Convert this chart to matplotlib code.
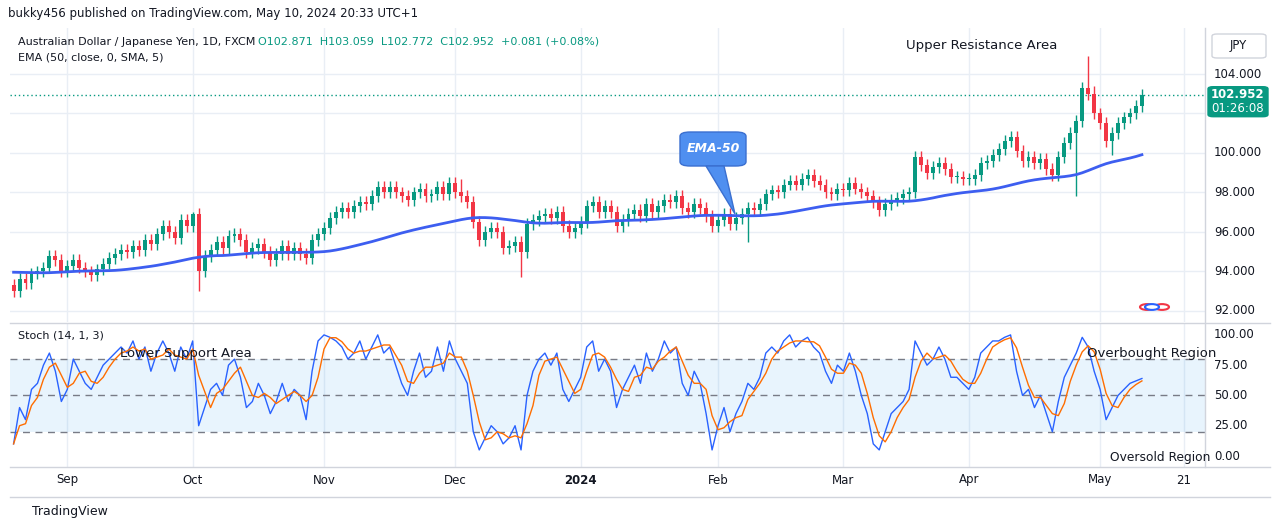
import numpy as np
import pandas as pd
import matplotlib
matplotlib.use("Agg")
import matplotlib.pyplot as plt
from matplotlib.patches import FancyBboxPatch, Rectangle

closes = [
 93.0,93.6,93.4,93.9,94.0, 94.2,94.8,94.6,94.0,94.3, 94.6,94.2,94.0,93.8,94.1,
 94.4,94.7,94.9,95.1,95.0, 95.3,95.1,95.6,95.4,95.9, 96.3,96.0,95.7,96.6,96.3,
 96.9,94.0,94.8,95.1,95.5, 95.2,95.8,95.9,95.6,95.0, 95.2,95.4,95.0,94.6,94.9,
 95.3,94.9,95.2,94.9,94.7, 95.6,95.9,96.2,96.7,97.0, 97.2,97.0,97.3,97.5,97.4,
 97.8,98.3,98.0,98.3,98.0, 97.8,97.6,98.0,98.2,97.8, 97.9,98.3,97.9,98.5,98.0,
 97.8,97.5,96.5,95.6,96.0, 96.2,96.0,95.2,95.3,95.5, 95.0,96.4,96.6,96.8,96.9,
 96.7,97.0,96.3,96.0,96.2, 96.5,97.3,97.5,97.0,97.3, 97.0,96.3,96.6,96.9,97.1,
 96.8,97.4,97.0,97.3,97.6, 97.5,97.8,97.2,97.0,97.4, 97.2,96.8,96.3,96.6,96.9,
 96.4,96.7,96.9,97.2,97.1, 97.4,97.9,98.1,98.0,98.4, 98.6,98.4,98.7,98.9,98.6,
 98.4,98.0,97.9,98.2,98.1, 98.5,98.2,98.0,97.8,97.5, 97.1,97.4,97.6,97.7,97.9,
 98.0,99.8,99.4,99.0,99.3, 99.5,99.2,98.8,98.8,98.7, 98.7,98.9,99.5,99.6,99.9,
 100.2,100.6,100.8,100.1,99.6, 99.8,99.5,99.7,99.2,98.9, 99.8,100.5,101.0,101.6,103.3,
 103.0,102.0,101.5,100.6,101.0, 101.5,101.8,102.0,102.4,102.952]
first_open = 93.3
wick = 0.3
extreme_highs = {30: 97.0, 180: 104.9, 181: 103.4, 75: 98.7}
extreme_lows = {31: 93.0, 85: 93.7, 123: 95.5, 178: 97.8, 184: 99.9}
stoch_k = [
 10,40,30,55,60, 75,85,70,45,55, 80,70,60,55,65, 75,80,85,90,85, 95,80,90,70,85,
 95,85,70,90,80, 95,25,40,55,60, 50,75,80,65,40, 45,60,50,35,45, 60,45,55,50,30,
 70,95,100,98,95, 90,80,85,95,80, 90,100,85,90,75, 60,50,70,85,65, 70,90,70,95,80,
 70,60,20,5,15, 25,20,10,15,25, 5,50,70,80,85, 75,85,55,45,55, 65,90,95,70,80,
 70,40,55,65,75, 60,85,70,80,95, 85,90,60,50,70, 60,35,5,25,40, 20,35,45,60,55,
 65,85,90,85,95, 100,90,95,98,90, 85,70,60,75,70, 85,70,50,35,10, 5,20,35,40,45,
 55,95,85,75,80, 90,80,65,65,60, 55,65,85,90,95, 95,98,100,70,50, 55,40,50,35,20,
 45,65,75,85,98, 90,70,55,30,40, 50,55,60,62,64]
ema_seed = 94.0
month_labels = ["Sep", "Oct", "Nov", "Dec", "2024", "Feb", "Mar", "Apr", "May", "21"]
month_starts = ["2023-09-01","2023-10-01","2023-11-01","2023-12-01","2024-01-01",
                "2024-02-01","2024-03-01","2024-04-01","2024-05-01","2024-05-21"]

UP, DN = "#089981", "#f23645"
n = len(closes)
x = np.arange(n)
c = np.array(closes)
o = np.concatenate([[first_open], c[:-1]])
h = np.maximum(o, c) + wick
l = np.minimum(o, c) - wick
for k, v in extreme_highs.items(): h[k] = v
for k, v in extreme_lows.items(): l[k] = v
ema = []
e = ema_seed
a = 2 / 51
for v in c:
    e = e + a * (v - e)
    ema.append(e)
ema = pd.Series(ema).rolling(5, min_periods=1).mean().values
K = np.array(stoch_k, float)
D = pd.Series(K).rolling(3, min_periods=1).mean().values

allb = pd.bdate_range("2023-08-21", "2024-06-10")
def idx(d):
    return int(np.searchsorted(allb, pd.Timestamp(d)))
tick_pos = [idx(d) for d in month_starts]

W, H = 1281, 530
PX = 5.97
fig = plt.figure(figsize=(12.81, 5.30), dpi=100)
fig.patch.set_facecolor("white")
def rect(l_, t, r, b):
    return [l_ / W, 1 - b / H, (r - l_) / W, (b - t) / H]
ax = fig.add_axes(rect(10, 28, 1205, 322))
ax2 = fig.add_axes(rect(10, 324, 1205, 467))
x0 = -0.6; x1 = x0 + 1195 / PX
grid = "#e9eef5"
for a_ in (ax, ax2):
    a_.set_xlim(x0, x1)
    a_.set_xticks([]); a_.set_yticks([])
    for s in a_.spines.values(): s.set_visible(False)
    for p in tick_pos: a_.axvline(p, color=grid, lw=1, zorder=0)
ax.set_ylim(91.44, 106.33)
for pv in range(92, 106, 2): ax.axhline(pv, color=grid, lw=1, zorder=0)
for i in x:
    col = UP if c[i] >= o[i] else DN
    ax.vlines(i, l[i], h[i], color=col, lw=1, zorder=2)
    ax.add_patch(Rectangle((i - 0.33, min(o[i], c[i])), 0.66, max(abs(c[i] - o[i]), 0.04),
                           color=col, zorder=3, lw=0))
ax.plot(x, ema, color="#3d5ef0", lw=2, zorder=4)
ax.axhline(c[-1], color="#089981", lw=1, ls=(0, (1, 2)), zorder=1)

ax2.set_ylim(-9.1, 109)
ax2.axhspan(20, 80, color="#2196f3", alpha=0.1, lw=0)
for lv in (80, 50, 20): ax2.axhline(lv, color="#787b86", lw=1, ls=(0, (5, 4)))
ax2.plot(x, K, color="#2962ff", lw=1)
ax2.plot(x, D, color="#ff6d00", lw=1)

fig.add_artist(plt.Line2D([10/W, 1270/W], [1-323/H]*2, color="#d1d4dc", lw=1))
fig.add_artist(plt.Line2D([1205/W]*2, [1-28/H, 1-467/H], color="#d1d4dc", lw=1))
fig.add_artist(plt.Line2D([10/W, 1270/W], [1-467/H]*2, color="#d1d4dc", lw=1))
fig.add_artist(plt.Line2D([10/W, 1270/W], [1-497/H]*2, color="#d1d4dc", lw=1))

F = "DejaVu Sans"
def ft(px, py, s, **kw):
    kw.setdefault("fontsize", 8.5); kw.setdefault("color", "#131722"); kw.setdefault("family", F)
    fig.text(px / W, 1 - py / H, s, **kw)
for pv in range(92, 106, 2):
    if pv == 102:
        continue
    yy = 74 + (104 - pv) * 19.75
    ft(1214, yy, f"{pv:.3f}", va="center")
for sv in (100, 75, 50, 25, 0):
    yy = 456 - sv * 1.21
    ft(1214, yy, f"{sv:.2f}", va="center")
for lab, p in zip(month_labels, tick_pos):
    px = 10 + (p - x0) * PX
    ft(px, 480, lab, ha="center", va="center", fontweight="bold" if lab == "2024" else "normal")
ly = 74 + (104 - c[-1]) * 19.75
fig.add_artist(FancyBboxPatch((1208/W, 1-(ly+22)/H), 60/W, 30/H, boxstyle="round,pad=0,rounding_size=0.004",
                              transform=fig.transFigure, color="#089981"))
ft(1238, ly, f"{c[-1]:.3f}", ha="center", va="center", color="white", fontweight="bold")
ft(1238, ly + 14, "01:26:08", ha="center", va="center", color="white")
fig.add_artist(FancyBboxPatch((1212/W, 1-58/H), 54/W, 24/H, boxstyle="round,pad=0,rounding_size=0.004",
                              transform=fig.transFigure, fc="white", ec="#d1d4dc"))
ft(1230, 46, "JPY", va="center")

ft(8, 14, "bukky456 published on TradingView.com, May 10, 2024 20:33 UTC+1", va="center", fontsize=8.5)
ft(18, 42, "Australian Dollar / Japanese Yen, 1D, FXCM", va="center", fontsize=8)
ft(258, 42, "O102.871  H103.059  L102.772  C102.952  +0.081 (+0.08%)", va="center", color="#089981", fontsize=8)
ft(18, 58, "EMA (50, close, 0, SMA, 5)", va="center", fontsize=8)
ft(18, 335, "Stoch (14, 1, 3)", va="center", fontsize=8)
ft(906, 45, "Upper Resistance Area", va="center", fontsize=9.5)
ft(120, 354, "Lower Support Area", va="center", fontsize=9.5)
ft(1087, 354, "Overbought Region", va="center", fontsize=9.5)
ft(1110, 458, "Oversold Region", va="center", fontsize=8.8)
ft(32, 512, "TradingView", va="center", fontsize=9)
fig.add_artist(FancyBboxPatch((680/W, 1-166/H), 66/W, 34/H, boxstyle="round,pad=0,rounding_size=0.008",
                              transform=fig.transFigure, fc="#4f8ff0", ec="#3a6fd0"))
fig.add_artist(plt.Polygon([[706/W, 1-166/H], [724/W, 1-166/H], [735/W, 1-214/H]],
                           transform=fig.transFigure, fc="#4f8ff0", ec="#3a6fd0"))
ft(713, 149, "EMA-50", ha="center", va="center", color="white", fontstyle="italic", fontweight="bold", fontsize=9)
for cx, col in ((1147, DN), (1162, DN), (1152, "#2962ff")):
    fig.add_artist(plt.Circle((cx/W, 1-307/H), 7/W, transform=fig.transFigure, fc="white", ec=col, lw=1.5))
fig.savefig("out.png", dpi=100)
